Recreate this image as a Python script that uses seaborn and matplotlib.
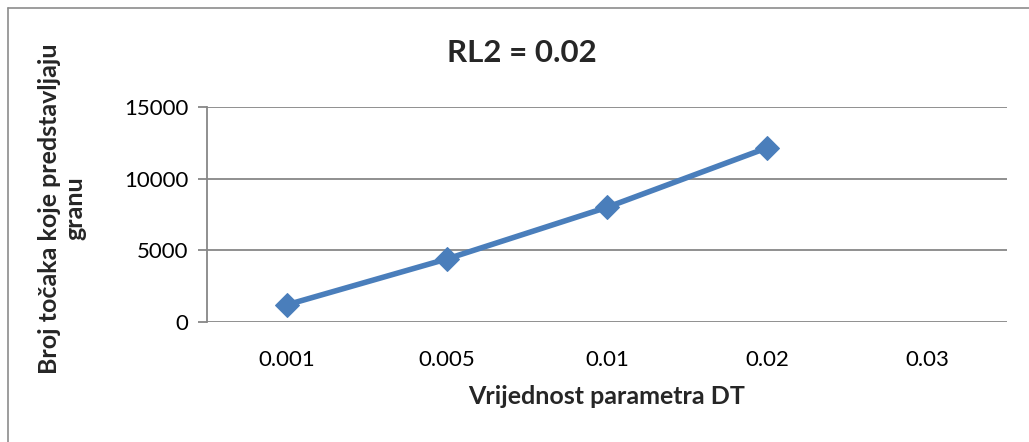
import matplotlib
matplotlib.use("Agg")
import matplotlib.pyplot as plt
import seaborn as sns
import numpy as np
import pandas as pd

categories = ["0.001", "0.005", "0.01", "0.02", "0.03"]
values = [1200, 4400, 8000, 12150, np.nan]
y_ticks = [0, 5000, 10000, 15000]
title = "RL2 = 0.02"
x_label = "Vrijednost parametra DT"
y_label = "Broj točaka koje predstavljaju\ngranu"

sns.set_theme(style="white")
plt.rcParams["font.family"] = ["Lato", "DejaVu Sans"]

df = pd.DataFrame({"pos": np.arange(len(categories)), "val": values})

fig = plt.figure(figsize=(10.29, 4.42), dpi=100)
ax = fig.add_axes([207/1029, 1-322/442, 800/1029, 215/442])

line_color = "#4A7EBB"
sns.lineplot(data=df.dropna(), x="pos", y="val", ax=ax, color=line_color,
             linewidth=4.0, marker="D", markersize=12, markeredgecolor=line_color,
             markerfacecolor=line_color)

ax.set_xlim(-0.5, len(categories) - 0.5)
ax.set_ylim(0, 15000)
ax.set_xticks(np.arange(len(categories)))
ax.set_xticklabels(categories, fontsize=16, color="#000000")
ax.set_yticks(y_ticks)
ax.set_yticklabels([str(t) for t in y_ticks], fontsize=16, color="#000000")

grid_color = "#878787"
ax.grid(axis="y", color=grid_color, linewidth=1.3)
ax.grid(axis="x", visible=False)
ax.set_axisbelow(True)
for s in ["top", "right", "bottom"]:
    ax.spines[s].set_visible(False)
ax.spines["left"].set_color(grid_color)
ax.spines["left"].set_linewidth(1.3)
ax.tick_params(axis="y", which="major", left=True, length=6.5, width=1.3,
               color=grid_color, pad=7)
ax.tick_params(axis="x", which="major", bottom=False, length=0, pad=20)

ax.set_xlabel(x_label, fontsize=18, fontweight="bold")
ax.xaxis.label.set_va("center")
ax.xaxis.set_label_coords(0.5, (322-396)/215)

ax.set_ylabel(y_label, fontsize=18, fontweight="bold", linespacing=1.15)
ax.yaxis.label.set_va("center")
ax.yaxis.label.set_ha("center")
ax.yaxis.set_label_coords((62-207)/800, (322-208.5)/215)

fig.text(522/1029, 1-52.5/442, title, ha="center", va="center",
         fontsize=22.5, fontweight="bold")

# chart border (Excel-style outer frame)
fig.add_artist(plt.Line2D([8/1029, 8/1029], [0, 1-8/442], transform=fig.transFigure,
                          color="#8C8C8C", linewidth=1.2))
fig.add_artist(plt.Line2D([8/1029, 1], [1-8/442, 1-8/442], transform=fig.transFigure,
                          color="#8C8C8C", linewidth=1.2))

fig.savefig("out.png", dpi=100, facecolor="white")
